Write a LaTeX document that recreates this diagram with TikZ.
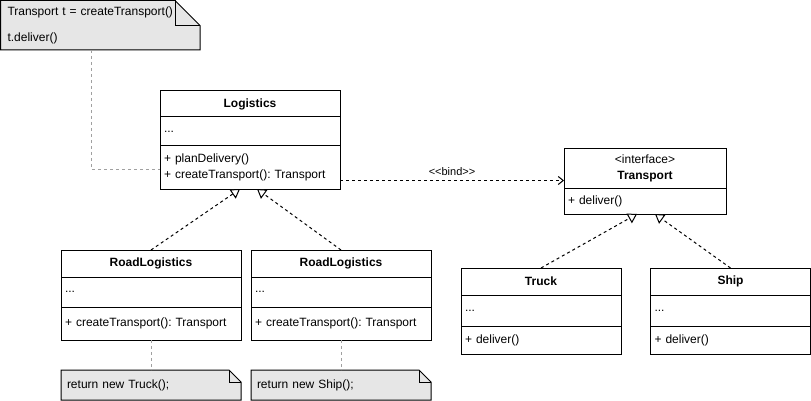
\documentclass[tikz,border=0pt]{standalone}
\usepackage{fontspec}
\setmainfont{Liberation Sans}
\usetikzlibrary{positioning,arrows.meta,backgrounds}
\definecolor{notegray}{HTML}{E6E6E6}
\definecolor{linkgray}{HTML}{A0A0A0}
\frenchspacing

\begin{document}
\begin{tikzpicture}[
  x=1pt, y=-1pt,
  font=\fontsize{12}{14}\selectfont,
  node distance=0pt,
  hd/.style  ={draw, line width=1pt, inner sep=0pt, outer sep=0pt, align=center,
               font=\fontsize{12}{14}\selectfont\bfseries, anchor=north west},
  row/.style ={draw, line width=1pt, inner xsep=4pt, inner ysep=0pt, outer sep=0pt,
               align=left},
  note/.style={inner xsep=7pt, inner ysep=0pt, outer sep=0pt, align=left,
               anchor=north west},
  fold/.style={draw, line width=1pt, fill=notegray},
  link/.style={draw=linkgray, line width=1pt, dash pattern=on 3pt off 3pt},
  real/.style={-{Triangle[open, length=9pt, width=11pt, fill=white]}, line width=1pt,
               dash pattern=on 3pt off 3pt},
  bind/.style={-{Straight Barb[length=5pt, width=8pt]}, line width=1pt,
               dash pattern=on 3pt off 3pt},
]
  \useasboundingbox (0,0) rectangle (811,401);

  % --- creador ---
  \node[hd, minimum width=180pt, minimum height=26pt] (logi-h) at (160,91) {Logistics};
  \node[row, text width=172pt, minimum height=29pt, below=of logi-h] (logi-a) {...};
  \node[row, text width=172pt, minimum height=43pt, below=of logi-a] (logi-m)
        {+ planDelivery()\\[2pt]+ createTransport(): Transport};

  % --- creadores concretos ---
  \node[hd, minimum width=180pt, minimum height=27pt] (road1-h) at (61,250) {RoadLogistics};
  \node[row, text width=172pt, minimum height=30pt, below=of road1-h] (road1-a) {...};
  \node[row, text width=172pt, minimum height=33pt, below=of road1-a] (road1-m)
        {+ createTransport(): Transport};

  \node[hd, minimum width=180pt, minimum height=27pt] (road2-h) at (251,250) {RoadLogistics};
  \node[row, text width=172pt, minimum height=30pt, below=of road2-h] (road2-a) {...};
  \node[row, text width=172pt, minimum height=33pt, below=of road2-a] (road2-m)
        {+ createTransport(): Transport};

  % --- producto ---
  \node[hd, minimum width=162pt, minimum height=39pt, font=\fontsize{12}{14}\selectfont]
        (tr-h) at (564,149) {<interface>\\[2pt]\textbf{Transport}};
  \node[row, text width=154pt, minimum height=26pt, below=of tr-h] (tr-m) {+ deliver()};

  % --- productos concretos ---
  \node[hd, minimum width=160pt, minimum height=27pt] (truck-h) at (461,268) {Truck};
  \node[row, text width=152pt, minimum height=31pt, below=of truck-h] (truck-a) {...};
  \node[row, text width=152pt, minimum height=28pt, below=of truck-a] (truck-m) {+ deliver()};

  \node[hd, minimum width=160pt, minimum height=27pt] (ship-h) at (650.5,268) {Ship};
  \node[row, text width=152pt, minimum height=31pt, below=of ship-h] (ship-a) {...};
  \node[row, text width=152pt, minimum height=28pt, below=of ship-a] (ship-m) {+ deliver()};

  % --- notas ---
  \node[note, text width=185.5pt, minimum height=49.5pt] (tnote) at (0.5,0.5)
        {Transport t = createTransport()\\[12pt]t.deliver()};
  \node[note, inner xsep=6pt, text width=168pt, minimum height=30pt] (n1) at (61,370)
        {return new Truck();};
  \node[note, inner xsep=6pt, text width=168pt, minimum height=30pt] (n2) at (251,370)
        {return new Ship();};

  \begin{scope}[on background layer]
    \foreach \n/\f in {tnote/25, n1/12, n2/12} {
      \path[fold] (\n.north west) -- ([xshift=-\f pt]\n.north east)
        -- ([yshift=-\f pt]\n.north east) -- (\n.south east) -- (\n.south west) -- cycle;
      \draw[line width=1pt] ([xshift=-\f pt]\n.north east) |- ([yshift=-\f pt]\n.north east);
    }
  \end{scope}

  % --- flechas ---
  \draw[link] ([xshift=-8.5pt]tnote.south) |- ([yshift=-2pt]logi-m.west);
  \draw[link] (road1-m.south) -- (n1.north);
  \draw[link] (road2-m.south) -- (n2.north);

  \draw[real] (road1-h.north) -- ([xshift=-10pt]logi-m.south);
  \draw[real] (road2-h.north) -- ([xshift=7pt]logi-m.south);
  \draw[real] (truck-h.north) -- ([xshift=-8pt]tr-m.south);
  \draw[real] (ship-h.north)  -- ([xshift=10pt]tr-m.south);

  \draw[bind] ([yshift=-13pt]logi-m.east) -- ([yshift=-13pt]logi-m.east -| tr-h.west)
        node[midway, above=1pt, font=\fontsize{11}{13}\selectfont] {<{}<bind>{}>};
\end{tikzpicture}
\end{document}
